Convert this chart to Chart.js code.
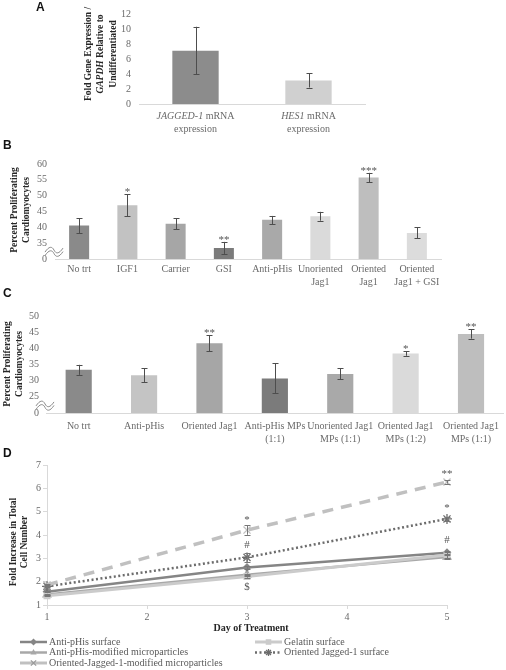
<!DOCTYPE html>
<html><head><meta charset="utf-8">
<script src="https://cdn.jsdelivr.net/npm/chart.js@4/dist/chart.umd.min.js"></script>
<style>
html,body{margin:0;padding:0;background:#fff;width:506px;height:670px;overflow:hidden}
canvas{position:absolute;left:0;top:0}
</style></head><body>
<canvas id="cA" width="506" height="670"></canvas>
<canvas id="cB" width="506" height="670"></canvas>
<canvas id="cC" width="506" height="670"></canvas>
<canvas id="cD" width="506" height="670"></canvas>
<script>
// ---------------- DATA ----------------
// Panel A
const aGenes = ['JAGGED-1', 'HES1'];
const aLabelRest = [' mRNA', ' mRNA'];
const aLabelLine2 = ['expression', 'expression'];
const aValues = [7.1, 3.15];
const aErrLow = [4.0, 2.2];
const aErrHigh = [10.3, 4.1];
const aYTitle = ['Fold Gene Expression /', 'GAPDH| Relative to', 'Undifferentiated'];

// Panel B
const bCategories = ['No trt', 'IGF1', 'Carrier', 'GSI', 'Anti-pHis', ['Unoriented', 'Jag1'], ['Oriented', 'Jag1'], ['Oriented', 'Jag1 + GSI']];
const bValues = [40.6, 47.0, 41.1, 33.5, 42.4, 43.5, 55.7, 38.2];
const bErrLow = [38.2, 43.5, 39.4, 31.6, 40.9, 42.1, 54.2, 36.5];
const bErrHigh = [42.9, 50.4, 42.8, 35.4, 43.6, 44.9, 57.2, 40.0];
const bStars = ['', '*', '', '**', '', '', '***', ''];

// Panel C
const cCategories = ['No trt', 'Anti-pHis', 'Oriented Jag1', ['Anti-pHis MPs', '(1:1)'], ['Unoriented Jag1', 'MPs (1:1)'], ['Oriented Jag1', 'MPs (1:2)'], ['Oriented Jag1', 'MPs (1:1)']];
const cValues = [33.4, 31.7, 41.6, 30.7, 32.1, 38.4, 44.4];
const cErrLow = [31.8, 29.6, 39.1, 26.2, 30.5, 37.7, 43.0];
const cErrHigh = [34.9, 33.9, 44.0, 35.4, 33.9, 39.1, 45.9];
const cStars = ['', '', '**', '', '', '*', '**'];

const pYTitle = ['Percent Proliferating', 'Cardiomyocytes'];

// Panel D
const dDays = [1, 3, 5];
const dAntiSurf = [1.57, 2.61, 3.24];
const dGelatin = [1.40, 2.22, 3.14];
const dAntiMP = [1.45, 2.30, 3.06];
const dJagSurf = [1.80, 3.04, 4.69];
const dJagMP = [1.86, 4.21, 6.27];
const dAntiSurfErr = [0.03, 0.06, 0.06];
const dGelatinErr = [0.03, 0.05, 0.14];
const dAntiMPErr = [0.03, 0.05, 0.1];
const dJagSurfErr = [0.04, 0.18, 0.08];
const dJagMPErr = [0.04, 0.2, 0.07];
const dSeriesNames = ['Anti-pHis surface', 'Gelatin surface', 'Anti-pHis-modified microparticles', 'Oriented Jagged-1 surface', 'Oriented-Jagged-1-modified microparticles'];
// significance notes: [day, value, text]
const dNotes = [[3, 4.62, '*'], [3, 3.58, '#'], [3, 1.78, '$'], [5, 6.62, '**'], [5, 5.14, '*'], [5, 3.8, '#']];
const dYTitle = ['Fold Increase in Total', 'Cell Number'];
const dXTitle = 'Day of Treatment';

// ---------------- STYLE ----------------
const W = 506, H = 670;
const SERIF = "'Liberation Serif', 'Times New Roman', serif";
const SANS = "'Liberation Sans', Arial, sans-serif";
const TICK = '#6a6a6a';
const TITLE = '#262626';
const AXIS = '#d9d9d9';

function drawMixedCentered(ctx, segs, cx, cy) {
  let total = 0;
  segs.forEach(s => { ctx.font = s.font; s.w = ctx.measureText(s.t).width; total += s.w; });
  let x = cx - total / 2;
  ctx.textAlign = 'left'; ctx.textBaseline = 'middle';
  segs.forEach(s => { ctx.font = s.font; ctx.fillText(s.t, x, cy); x += s.w; });
}
function parseItalic(line, normal, italic) {
  if (line.indexOf('|') >= 0) {
    const p = line.split('|');
    return [{t: p[0], font: italic}, {t: p[1], font: normal}];
  }
  return [{t: line, font: normal}];
}
function drawRotatedTitle(ctx, lines, cx, cy, gap, size) {
  ctx.save();
  ctx.translate(cx, cy); ctx.rotate(-Math.PI / 2);
  ctx.fillStyle = TITLE;
  const n = lines.length;
  lines.forEach((ln, i) => {
    const y = (i - (n - 1) / 2) * gap;
    drawMixedCentered(ctx, parseItalic(ln, 'bold ' + size + 'px ' + SERIF, 'italic bold ' + size + 'px ' + SERIF), 0, y);
  });
  ctx.restore();
}
function panelLetter(ctx, t, x, y) {
  ctx.save(); ctx.fillStyle = '#111'; ctx.font = 'bold 12px ' + SANS;
  ctx.textAlign = 'left'; ctx.textBaseline = 'middle'; ctx.fillText(t, x, y); ctx.restore();
}
function squiggle(ctx, cx, cy) {
  ctx.save();
  ctx.fillStyle = '#fff';
  ctx.fillRect(cx - 9, cy - 3, 18, 5);
  ctx.strokeStyle = '#8a8a8a'; ctx.lineWidth = 1;
  [-2, 1.5].forEach(off => {
    ctx.beginPath();
    ctx.moveTo(cx - 9, cy + off + 2);
    ctx.bezierCurveTo(cx - 5, cy + off - 4, cx - 2, cy + off - 4, cx, cy + off);
    ctx.bezierCurveTo(cx + 2, cy + off + 4, cx + 5, cy + off + 4, cx + 9, cy + off - 2);
    ctx.stroke();
  });
  ctx.restore();
}
function errorBars(ctx, xs, ys, lo, hi, cap, color) {
  ctx.save(); ctx.strokeStyle = color; ctx.lineWidth = 1;
  lo.forEach((l, i) => {
    const px = Math.round(xs[i]) + 0.5;
    const pl = ys.getPixelForValue(l), ph = ys.getPixelForValue(hi[i]);
    ctx.beginPath();
    ctx.moveTo(px, pl); ctx.lineTo(px, ph);
    ctx.moveTo(px - cap, Math.round(pl) + 0.5); ctx.lineTo(px + cap, Math.round(pl) + 0.5);
    ctx.moveTo(px - cap, Math.round(ph) + 0.5); ctx.lineTo(px + cap, Math.round(ph) + 0.5);
    ctx.stroke();
  });
  ctx.restore();
}

function barChart(id, geo, labels, values, colors, yo, extra) {
  return new Chart(document.getElementById(id), {
    type: 'bar',
    data: {labels: labels, datasets: [{data: values, backgroundColor: colors, borderWidth: 0, categoryPercentage: 1, barPercentage: geo.bp}]},
    options: {
      responsive: false, animation: false, devicePixelRatio: 1,
      layout: {padding: {top: geo.top, right: W - geo.right, bottom: 0, left: 0}},
      plugins: {legend: {display: false}, tooltip: {enabled: false}},
      scales: {
        x: {type: 'category', offset: true, grid: {display: false, drawTicks: false, tickLength: 0},
            border: {display: true, color: AXIS, width: 1},
            ticks: {display: geo.showX, maxRotation: 0, minRotation: 0, autoSkip: false, padding: geo.xpad || 4, color: TICK, font: {family: SERIF, size: 10, lineHeight: 1.3}},
            afterFit(s) { s.height = H - geo.bottom; }},
        y: {min: yo.min, max: yo.max, grid: {display: false, drawTicks: false, tickLength: 0}, border: {display: false},
            ticks: {stepSize: yo.step, padding: yo.pad, color: TICK, font: {family: SERIF, size: 10},
                    callback: v => (yo.zero && Math.abs(v - yo.min) < 1e-6) ? '0' : v},
            afterFit(s) { s.width = geo.left; }}
      }
    },
    plugins: [extra]
  });
}

function starsAndErrors(chart, lo, hi, stars) {
  const ctx = chart.ctx, xs = chart.scales.x, ys = chart.scales.y;
  const px = lo.map((_, i) => xs.getPixelForValue(i));
  errorBars(ctx, px, ys, lo, hi, 3, '#4d4d4d');
  ctx.save(); ctx.fillStyle = '#555'; ctx.font = '11px ' + SERIF;
  ctx.textAlign = 'center'; ctx.textBaseline = 'alphabetic';
  stars.forEach((s, i) => { if (s) ctx.fillText(s, px[i], ys.getPixelForValue(hi[i]) + 1); });
  ctx.restore();
  const t = ys.ticks;
  const y0 = ys.getPixelForValue(t[0].value), y1 = ys.getPixelForValue(t[1].value);
  squiggle(ctx, chart.chartArea.left - 1, (y0 + y1) / 2 + 1);
}

// ---------------- PANEL A ----------------
barChart('cA', {top: 9, bottom: 104, left: 139, right: 365, bp: 0.41, showX: false},
  aGenes, aValues, ['#8c8c8c', '#d0d0d0'], {min: 0, max: 12, step: 2, pad: 8, zero: false},
  {
    id: 'A',
    afterDatasetsDraw(chart) {
      const ctx = chart.ctx, xs = chart.scales.x, ys = chart.scales.y;
      const px = aValues.map((_, i) => xs.getPixelForValue(i));
      errorBars(ctx, px, ys, aErrLow, aErrHigh, 3, '#4d4d4d');
      ctx.save(); ctx.fillStyle = TICK;
      px.forEach((x, i) => {
        drawMixedCentered(ctx, [{t: aGenes[i], font: 'italic 10px ' + SERIF}, {t: aLabelRest[i], font: '10px ' + SERIF}], x, 116.5);
        drawMixedCentered(ctx, [{t: aLabelLine2[i], font: '10px ' + SERIF}], x, 129.5);
      });
      ctx.restore();
      drawRotatedTitle(ctx, aYTitle, 101, 54, 12.5, 9.5);
      panelLetter(ctx, 'A', 36, 8);
    }
  });

// ---------------- PANEL B ----------------
barChart('cB', {top: 164, bottom: 259, left: 55, right: 441, bp: 0.415, showX: true},
  bCategories, bValues, ['#8a8a8a', '#c2c2c2', '#a6a6a6', '#7b7b7b', '#a9a9a9', '#dadada', '#bebebe', '#dcdcdc'],
  {min: 30, max: 60, step: 5, pad: 8, zero: true},
  {
    id: 'B',
    afterDatasetsDraw(chart) {
      starsAndErrors(chart, bErrLow, bErrHigh, bStars);
      drawRotatedTitle(chart.ctx, pYTitle, 21, 210, 12, 9.5);
      panelLetter(chart.ctx, 'B', 3, 146);
    }
  });

// ---------------- PANEL C ----------------
barChart('cC', {top: 316, bottom: 413, left: 46, right: 505, bp: 0.40, showX: true, xpad: 7},
  cCategories, cValues, ['#8a8a8a', '#c4c4c4', '#a6a6a6', '#7b7b7b', '#a9a9a9', '#dadada', '#bebebe'],
  {min: 20, max: 50, step: 5, pad: 7, zero: true},
  {
    id: 'C',
    afterDatasetsDraw(chart) {
      starsAndErrors(chart, cErrLow, cErrHigh, cStars);
      drawRotatedTitle(chart.ctx, pYTitle, 14, 364, 12, 9.5);
      panelLetter(chart.ctx, 'C', 3, 294);
    }
  });

// ---------------- PANEL D ----------------
function pts(arr) { return dDays.map((d, i) => ({x: d, y: arr[i]})); }
const dStyles = [
  {color: '#858585', dash: [], width: 2.5, point: 'rectRot', r: 3.5},
  {color: '#cbcbcb', dash: [], width: 3, point: 'rect', r: 4},
  {color: '#a8a8a8', dash: [], width: 2.5, point: 'triangle', r: 4.5},
  {color: '#6c6c6c', dash: [2, 2.5], width: 2.5, point: 'star', r: 5},
  {color: '#c0c0c0', dash: [11, 8], width: 3.5, point: 'crossRot', r: 5}
];
const dData = [dAntiSurf, dGelatin, dAntiMP, dJagSurf, dJagMP];
const dErrs = [dAntiSurfErr, dGelatinErr, dAntiMPErr, dJagSurfErr, dJagMPErr];
const dOrder = [3, 2, 4, 1, 0];

function drawMarker(ctx, style, x, y, r, color) {
  ctx.save(); ctx.fillStyle = color; ctx.strokeStyle = color; ctx.lineWidth = 1.3; ctx.setLineDash([]);
  ctx.beginPath();
  if (style === 'rectRot') { ctx.moveTo(x, y - r); ctx.lineTo(x + r, y); ctx.lineTo(x, y + r); ctx.lineTo(x - r, y); ctx.closePath(); ctx.fill(); }
  else if (style === 'rect') { ctx.rect(x - r * 0.8, y - r * 0.8, r * 1.6, r * 1.6); ctx.fill(); }
  else if (style === 'triangle') { ctx.moveTo(x, y - r); ctx.lineTo(x + r * 0.9, y + r * 0.6); ctx.lineTo(x - r * 0.9, y + r * 0.6); ctx.closePath(); ctx.fill(); }
  else if (style === 'star') { const a = r * 0.7; ctx.moveTo(x - a, y - a); ctx.lineTo(x + a, y + a); ctx.moveTo(x + a, y - a); ctx.lineTo(x - a, y + a); ctx.moveTo(x, y - r); ctx.lineTo(x, y + r); ctx.moveTo(x - r, y); ctx.lineTo(x + r, y); ctx.stroke(); }
  else if (style === 'crossRot') { const a = r * 0.75; ctx.moveTo(x - a, y - a); ctx.lineTo(x + a, y + a); ctx.moveTo(x + a, y - a); ctx.lineTo(x - a, y + a); ctx.stroke(); }
  ctx.restore();
}

new Chart(document.getElementById('cD'), {
  type: 'line',
  data: {
    datasets: dData.map((arr, i) => ({
      label: dSeriesNames[i], data: pts(arr), borderColor: dStyles[i].color, backgroundColor: dStyles[i].color,
      borderWidth: dStyles[i].width, borderDash: dStyles[i].dash, tension: 0, clip: false, order: dOrder[i],
      pointStyle: dStyles[i].point, pointRadius: dStyles[i].r, pointBorderWidth: 1.3,
      pointBorderColor: dStyles[i].color, pointBackgroundColor: dStyles[i].color
    }))
  },
  options: {
    responsive: false, animation: false, devicePixelRatio: 1,
    layout: {padding: {top: 465, right: W - 447, bottom: 0, left: 0}},
    plugins: {legend: {display: false}, tooltip: {enabled: false}},
    scales: {
      x: {type: 'linear', min: 1, max: 5,
          grid: {display: true, drawOnChartArea: false, drawTicks: true, tickLength: 4, color: AXIS},
          border: {display: true, color: AXIS},
          ticks: {stepSize: 1, padding: 2, color: TICK, font: {family: SERIF, size: 10}},
          afterFit(s) { s.height = H - 605; }},
      y: {min: 1, max: 7,
          grid: {display: true, drawOnChartArea: false, drawTicks: true, tickLength: 4, color: AXIS},
          border: {display: true, color: AXIS},
          ticks: {stepSize: 1, padding: 2, color: TICK, font: {family: SERIF, size: 10}},
          afterFit(s) { s.width = 47; }}
    }
  },
  plugins: [{
    id: 'D',
    afterDatasetsDraw(chart) {
      const ctx = chart.ctx, xs = chart.scales.x, ys = chart.scales.y;
      const px = dDays.map(d => xs.getPixelForValue(d));
      dData.forEach((arr, k) => {
        const lo = arr.map((v, i) => v - dErrs[k][i]);
        const hi = arr.map((v, i) => v + dErrs[k][i]);
        errorBars(ctx, px, ys, lo, hi, 3, '#777');
      });
      ctx.save(); ctx.fillStyle = '#555'; ctx.font = '11px ' + SERIF; ctx.textAlign = 'center'; ctx.textBaseline = 'middle';
      dNotes.forEach(n => { ctx.fillText(n[2], xs.getPixelForValue(n[0]), ys.getPixelForValue(n[1])); });
      ctx.restore();
      ctx.save(); ctx.fillStyle = TITLE; ctx.font = 'bold 10px ' + SERIF; ctx.textAlign = 'center'; ctx.textBaseline = 'middle';
      ctx.fillText(dXTitle, (chart.chartArea.left + chart.chartArea.right) / 2 + 4, 628);
      ctx.restore();
      drawRotatedTitle(ctx, dYTitle, 19.5, 542, 11, 9.5);
      panelLetter(ctx, 'D', 3, 454);
      const pos = [[20, 642], [255, 642], [20, 652.5], [255, 652.5], [20, 663]];
      ctx.save();
      dData.forEach((_, i) => {
        const st = dStyles[i], [lx, ly] = pos[i];
        ctx.strokeStyle = st.color; ctx.lineWidth = Math.min(st.width, 3); ctx.setLineDash(i === 3 ? [2, 2.5] : []);
        ctx.beginPath(); ctx.moveTo(lx, ly); ctx.lineTo(lx + 27, ly); ctx.stroke();
        drawMarker(ctx, st.point, lx + 13.5, ly, Math.min(st.r, 3.5), i === 4 ? '#9a9a9a' : st.color);
        ctx.fillStyle = '#5a5a5a'; ctx.font = '10px ' + SERIF; ctx.textAlign = 'left'; ctx.textBaseline = 'middle';
        ctx.fillText(dSeriesNames[i], lx + 29, ly);
      });
      ctx.restore();
    }
  }]
});
</script>
</body></html>
